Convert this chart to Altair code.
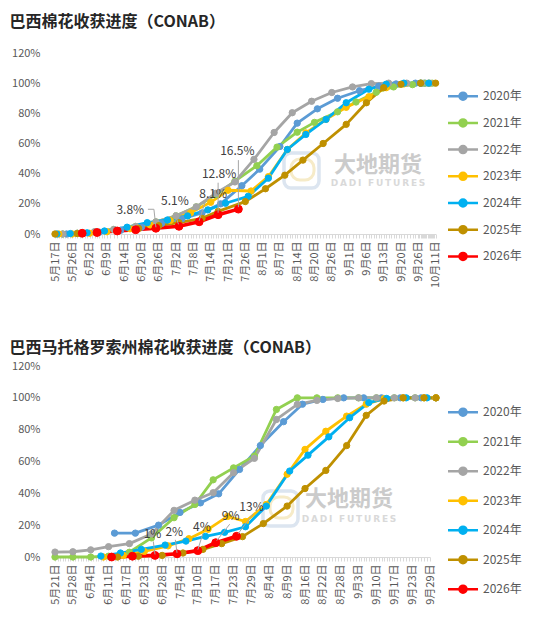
import altair as alt
import pandas as pd
from datetime import date

FONT = "Noto Sans CJK SC"
YEARS = ["2020年", "2021年", "2022年", "2023年", "2024年", "2025年", "2026年"]
COLORS = ["#5B9BD5", "#92D050", "#A5A5A5", "#FFC000", "#00B0F0", "#BF9000", "#FF0000"]

# ---------------- top panel: Brazil ----------------
TOP_TITLE = "巴西棉花收获进度（CONAB）"
TOP_LABELS = ["5/17", "5/26", "6/2", "6/9", "6/14", "6/20", "6/26", "7/2", "7/8", "7/14", "7/21",
              "7/26", "8/1", "8/7", "8/14", "8/20", "8/26", "9/1", "9/6", "9/13", "9/20", "9/26", "10/11"]

T2020_D = ["5/23", "5/30", "6/6", "6/13", "6/20", "6/27", "7/4", "7/11", "7/18", "7/25", "7/31",
           "8/7", "8/14", "8/21", "8/28", "9/4", "9/11", "9/18", "9/25", "10/2"]
T2020_V = [0, 0.5, 1.2, 2.5, 4.5, 7, 10, 14, 20, 32, 43, 58, 73.5, 83, 90, 95, 98, 99.5, 100, 100]

T2021_D = ["5/21", "5/28", "6/4", "6/11", "6/18", "6/25", "7/2", "7/9", "7/16", "7/23", "7/30",
           "8/6", "8/14", "8/20", "8/28", "9/3", "9/10", "9/17", "9/24", "10/1", "10/8"]
T2021_V = [0, 0.5, 1.3, 3, 5, 8, 12, 18, 26, 35, 45.3, 57.6, 67.5, 74, 81, 87.5, 94, 97.5, 99, 100, 100]

T2022_D = ["5/21", "5/28", "6/4", "6/11", "6/18", "6/25", "7/2", "7/9", "7/16", "7/23", "7/29",
           "8/5", "8/12", "8/19", "8/26", "9/2", "9/8", "9/15", "9/22", "9/29", "10/6"]
T2022_V = [0, 0.5, 1.5, 3, 5, 8, 12, 18, 27, 34.5, 49.5, 67.3, 80.4, 88, 93.8, 97.5, 99.7, 100, 100, 100, 100]

T2023_D = ["5/19", "5/26", "6/2", "6/9", "6/16", "6/23", "6/30", "7/7", "7/14", "7/21", "7/28",
           "8/3", "8/10", "8/17", "8/24", "8/31", "9/7", "9/14", "9/21", "9/28", "10/5"]
T2023_V = [0, 0, 0.5, 1.5, 3.5, 6, 9, 14, 21, 29, 28.5, 38, 56, 67, 76, 84, 91, 97, 99.5, 100, 100]

T2024_D = ["5/18", "5/25", "6/1", "6/8", "6/15", "6/22", "6/29", "7/6", "7/13", "7/20", "7/27",
           "8/3", "8/10", "8/17", "8/24", "8/31", "9/7", "9/14", "9/21", "9/28", "10/5"]
T2024_V = [0, 0.3, 0.8, 2, 4.5, 7.5, 9.3, 12, 16, 20.4, 25, 37, 56, 66, 76, 87, 96, 99.3, 100, 100, 100]

T2025_D = ["5/17", "5/28", "6/5", "6/12", "6/19", "6/26", "7/3", "7/11", "7/17", "7/26", "8/2",
           "8/9", "8/16", "8/23", "8/31", "9/6", "9/13", "9/20", "9/28", "10/11"]
T2025_V = [0, 0.3, 1, 2.2, 3.7, 5.5, 7.5, 10.4, 15, 21.5, 30, 39, 49, 60, 72.7, 87, 97, 99.3, 100, 100]

T2026_D = ["5/30", "6/5", "6/12", "6/18", "6/25", "7/3", "7/10", "7/17", "7/24"]
T2026_V = [0.5, 1.0, 2.0, 2.8, 3.8, 5.1, 8.1, 12.8, 16.5]

TOP_ANN_D = ["6/25", "7/3", "7/10", "7/17", "7/24"]
TOP_ANN_V = [3.8, 5.1, 8.1, 12.8, 16.5]
TOP_ANN_T = ["3.8%", "5.1%", "8.1%", "12.8%", "16.5%"]

# ---------------- bottom panel: Mato Grosso ----------------
BOT_TITLE = "巴西马托格罗索州棉花收获进度（CONAB）"
BOT_LABELS = ["5/21", "5/28", "6/4", "6/11", "6/17", "6/23", "6/28", "7/4", "7/10", "7/17", "7/23",
              "7/29", "8/4", "8/9", "8/16", "8/22", "8/28", "9/3", "9/10", "9/17", "9/23", "9/29"]

B2020_D = ["6/13", "6/20", "6/27", "7/4", "7/11", "7/18", "7/25", "8/1", "8/8", "8/15", "8/22",
           "8/29", "9/5", "9/12", "9/19", "9/26", "10/1"]
B2020_V = [15, 15, 20, 28, 34, 39.7, 55, 70, 85, 96, 99, 100, 100, 100, 100, 100, 100]

B2021_D = ["5/21", "5/28", "6/4", "6/11", "6/18", "6/25", "7/2", "7/9", "7/16", "7/23", "7/30",
           "8/6", "8/13", "8/20", "8/27", "9/3", "9/10", "9/17", "9/24", "10/1"]
B2021_V = [0, 0, 0, 0.5, 3, 12, 24.7, 33, 48.5, 56, 63.4, 92.7, 100, 100, 100, 100, 100, 100, 100, 100]

B2022_D = ["5/21", "5/28", "6/4", "6/11", "6/18", "6/25", "7/2", "7/9", "7/16", "7/23", "7/30",
           "8/6", "8/13", "8/20", "8/27", "9/3", "9/10", "9/17", "9/24", "10/1"]
B2022_V = [3.1, 3.3, 4.5, 6.5, 8.4, 14.5, 29.3, 35.7, 40.4, 53, 62, 86.4, 95.9, 98.4, 99.6, 100, 100, 100, 100, 100]

B2023_D = ["6/9", "6/16", "6/23", "6/30", "7/7", "7/14", "7/21", "7/27", "8/3", "8/9", "8/16",
           "8/23", "8/30", "9/6", "9/13", "9/20", "9/27", "10/1"]
B2023_V = [0, 1, 3.5, 7, 11.5, 17.4, 25.5, 22.3, 33, 52, 67.6, 79, 88.5, 96, 99.5, 100, 100, 100]

B2024_D = ["6/8", "6/15", "6/22", "6/29", "7/6", "7/13", "7/20", "7/27", "8/3", "8/10", "8/17",
           "8/24", "8/31", "9/7", "9/14", "9/21", "9/28"]
B2024_V = [0.6, 2.5, 4.8, 7.5, 10, 13, 15.5, 19, 32, 54, 64, 75.5, 87.5, 97, 99.6, 100, 100]

B2025_D = ["6/14", "6/21", "6/28", "7/5", "7/12", "7/19", "7/26", "8/2", "8/9", "8/16", "8/23",
           "8/30", "9/6", "9/13", "9/20", "9/27", "10/1"]
B2025_V = [0, 0.5, 1, 2.5, 4.8, 8.4, 12.8, 21, 32, 43, 54.4, 70, 89, 98, 100, 100, 100]

B2026_D = ["6/12", "6/19", "6/26", "7/3", "7/10", "7/17", "7/24"]
B2026_V = [0, 0.5, 1, 2, 4, 9, 13]

BOT_ANN_D = ["6/26", "7/3", "7/10", "7/17", "7/24"]
BOT_ANN_V = [1, 2, 4, 9, 13]
BOT_ANN_T = ["1%", "2%", "4%", "9%", "13%"]

Y_TICKS = [0, 20, 40, 60, 80, 100, 120]

WM_CN = "大地期货"
WM_EN = "\u2009".join(list("DADI")) + "\u2009 \u2009" + "\u2009".join(list("FUTURES"))

# ---------------- styling (pixel offsets, not data) ----------------
TOP_ANN_STYLE = [
    ((-25.6, -18.4), [(0, -1, -2, -19), (-2, -19, -8, -19)]),
    ((-4, -25), [(-0.5, -2, -4.5, -14)]),
    ((14, -28), [(0, -1, 6, -20)]),
    ((1, -41), [(0, -2, 0, -32)]),
    ((-1, -58), [(0, -2, 0, -49)]),
]
BOT_ANN_STYLE = [
    ((-2.5, -21), [(0, -1, -1.7, -14)]),
    ((-2.7, -21.6), [(0, -1, -1.7, -14)]),
    ((4, -24), [(0, -1, 5, -17)]),
    ((15, -27), [(1, -2, 14, -18.5)]),
    ((15, -29), [(1.5, -2.5, 16.5, -22.5)]),
]

LEGEND_PATH = ("M-1.5,0L1.5,0M-0.35,0A0.35,0.35,0,1,0,0.35,0"
               "A0.35,0.35,0,1,0,-0.35,0Z")


def doy(s):
    m, d = (int(p) for p in s.split("/"))
    return date(2001, m, d).timetuple().tm_yday


def build_df(series):
    rows = []
    for yr, (ds, vs) in zip(YEARS, series):
        for dd, vv in zip(ds, vs):
            rows.append({"year": yr, "doy": doy(dd), "v": vv})
    return pd.DataFrame(rows)


def panel(title, labels, series, ann_d, ann_v, ann_t, ann_style,
          width, height, left_pad, right_pad, row_pad, legend_y, title_offset, wm, logo):
    label_days = [doy(s) for s in labels]
    n = len(labels)
    step = (width - left_pad - right_pad) / (n - 1)
    rng = [left_pad + step * i for i in range(n)]
    last_day = label_days[-1] + int(round(right_pad / step * (label_days[-1] - label_days[-2])))
    tick_days = list(range(label_days[0], last_day + 1))

    label_arr = "[" + ",".join(str(d) for d in label_days) + "]"
    label_expr = ("indexof(%s, datum.value) >= 0 ? "
                  "(month(datetime(2001,0,datum.value))+1) + '月' + "
                  "date(datetime(2001,0,datum.value)) + '日' : ''") % label_arr

    xscale = alt.Scale(domain=label_days, range=rng, zero=False, nice=False)
    xaxis = alt.Axis(values=tick_days, labelExpr=label_expr, labelAngle=270,
                     labelAlign="right", labelBaseline="middle", labelOverlap=False,
                     labelFlush=False, labelBound=False, labelFontSize=11, labelColor="#595959",
                     labelPadding=3, tickSize=4, tickColor="#D9D9D9", domainColor="#D9D9D9",
                     domainWidth=1.2, grid=False, title=None)
    yscale = alt.Scale(domain=[0, 120], nice=False, zero=True)
    yaxis = alt.Axis(values=Y_TICKS, labelExpr="datum.value + '%'", domain=False, ticks=False,
                     grid=False, labelFontSize=11, labelColor="#595959", labelPadding=9, title=None)
    X = alt.X("doy:Q", scale=xscale, axis=xaxis)
    Y = alt.Y("v:Q", scale=yscale, axis=yaxis)
    cscale = alt.Scale(domain=YEARS, range=COLORS)
    leg = alt.Legend(title=None, orient="none", legendX=width + 14.5, legendY=legend_y,
                     symbolType=LEGEND_PATH, symbolSize=400, symbolStrokeWidth=2.5,
                     symbolOpacity=1, labelFontSize=12, labelColor="#595959", labelFont=FONT,
                     labelOffset=8.5, rowPadding=row_pad)

    df = build_df(series)
    base = alt.Chart(df)
    is26 = "datum.year == '2026年'"
    lines = base.mark_line(strokeJoin="round").encode(
        x=X, y=Y,
        stroke=alt.Stroke("year:N", scale=cscale, legend=leg),
        strokeWidth=alt.condition(is26, alt.value(3.6), alt.value(2.8)),
    )
    pts = base.mark_circle(opacity=1, strokeWidth=1).encode(
        x=X, y=Y,
        fill=alt.Fill("year:N", scale=cscale, legend=leg),
        stroke=alt.Stroke("year:N", scale=cscale, legend=leg),
        size=alt.condition(is26, alt.value(62), alt.value(40)),
    )

    (wx, wy1, wy2) = wm
    (lx1, ly1, lx2, ly2) = logo
    one = alt.Data(values=[{"k": 1}])
    logo_outer = alt.Chart(one).mark_rect(fill=None, stroke="#DCE5F0", strokeWidth=3.5,
                                          cornerRadius=7).encode(
        x=alt.value(lx1), x2=alt.value(lx2), y=alt.value(ly1), y2=alt.value(ly2))
    logo_inner = alt.Chart(one).mark_rect(fill=None, stroke="#F6EBC8", strokeWidth=3,
                                          cornerRadius=9).encode(
        x=alt.value(lx1 + 7), x2=alt.value(lx2 - 5), y=alt.value(ly1 + 6), y2=alt.value(ly2 - 8))
    wm1 = alt.Chart(one).mark_text(text=WM_CN, font=FONT, fontSize=22, fontWeight="bold",
                                   color="#CBCBCB").encode(x=alt.value(wx), y=alt.value(wy1))
    wm2 = alt.Chart(one).mark_text(text=WM_EN, font="DejaVu Sans", fontSize=9,
                                   fontWeight="bold", color="#D9D9D9").encode(
        x=alt.value(wx), y=alt.value(wy2))

    layers = [logo_outer, logo_inner, wm1, wm2, lines, pts]
    for dd, vv, tt, ((tdx, tdy), segs) in zip(ann_d, ann_v, ann_t, ann_style):
        d1 = alt.Data(values=[{"doy": doy(dd), "v": vv}])
        for (a, b, c, e) in segs:
            layers.append(alt.Chart(d1).mark_rule(color="#A6A6A6", strokeWidth=1,
                                                  xOffset=a, yOffset=b, x2Offset=c, y2Offset=e)
                          .encode(x=X, y=Y, x2="doy:Q", y2="v:Q"))
        layers.append(alt.Chart(d1).mark_text(text=tt, dx=tdx, dy=tdy, font=FONT, fontSize=12,
                                              color="#404040", baseline="middle")
                      .encode(x=X, y=Y))

    return alt.layer(*layers).properties(
        width=width, height=height,
        title=alt.TitleParams(text=title, anchor="start", frame="bounds", fontSize=16,
                              fontWeight="bold", color="#262626", font=FONT,
                              offset=title_offset, dx=-2),
    )


top = panel(TOP_TITLE, TOP_LABELS,
            [(T2020_D, T2020_V), (T2021_D, T2021_V), (T2022_D, T2022_V), (T2023_D, T2023_V),
             (T2024_D, T2024_V), (T2025_D, T2025_V), (T2026_D, T2026_V)],
            TOP_ANN_D, TOP_ANN_V, TOP_ANN_T, TOP_ANN_STYLE,
            388, 181, 6, 1.4, 6.7, 31.7, 17, (329, 112, 130), (235, 100, 270, 135))
bottom = panel(BOT_TITLE, BOT_LABELS,
               [(B2020_D, B2020_V), (B2021_D, B2021_V), (B2022_D, B2022_V), (B2023_D, B2023_V),
                (B2024_D, B2024_V), (B2025_D, B2025_V), (B2026_D, B2026_V)],
               BOT_ANN_D, BOT_ANN_V, BOT_ANN_T, BOT_ANN_STYLE,
               388, 191, 6, 7, 9.5, 34.7, 4, (300, 133, 152.5), (214, 125, 249, 160))

chart = alt.vconcat(top, bottom, spacing=52).resolve_scale(
    x="independent", y="independent", stroke="independent", fill="independent"
).resolve_legend(stroke="independent", fill="independent").properties(
    padding={"left": 1, "top": 6, "right": 0, "bottom": 0}
).configure(font=FONT).configure_view(stroke=None).configure_axis(labelFont=FONT)

chart.save("out.html", embed_options={"renderer": "svg", "actions": False})
